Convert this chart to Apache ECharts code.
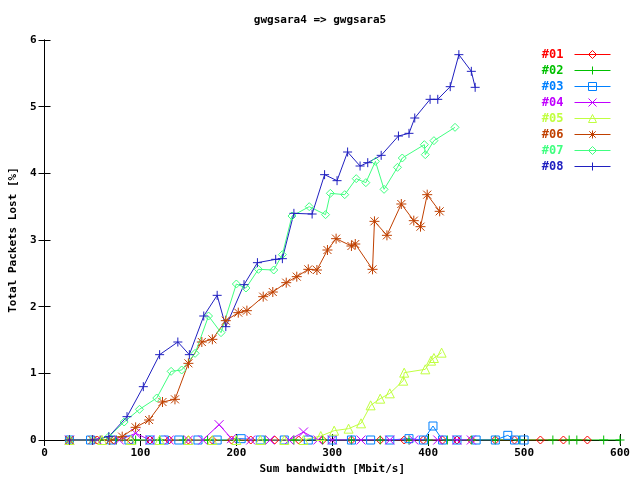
<!DOCTYPE html>
<html>
<head>
<meta charset="utf-8"/>
<title>gwgsara4 => gwgsara5</title>
<script src="https://cdn.jsdelivr.net/npm/echarts@6/dist/echarts.min.js"></script>
<style>body{margin:0}#main{width:640px;height:480px}</style>
</head>
<body>
<div id="main"></div>
<script>
// [Sum bandwidth, Packets lost %]
var s01 = [[26,0],[55,0],[72,0],[90,0],[110,0],[130,0],[150,0],[175,0],[195,0],[215,0],[240,0],[265,0],[290,0],[320,0],[350,0],[375,0],[395,0],[415,0],[430,0],[445,0],[470,0],[490,0],[517,0],[541,0],[566,0]];
var s02 = [[26,0],[58,0],[75,0],[95,0],[120,0],[145,0],[170,0],[200,0],[230,0],[260,0],[290,0],[320,0],[350,0],[380,0],[400,0],[420,0],[445,0],[470,0],[495,0],[530,0],[547,0],[555,0],[583,0],[600,0]];
var s03 = [[26,0],[48,0],[70,0],[88,0],[110,0],[125,0],[140,0],[160,0],[180,0],[205,0.02],[225,0],[250,0],[275,0],[300,0],[320,0],[340,0],[360,0],[380,0.02],[395,0],[405,0.21],[415,0],[430,0],[450,0],[470,0],[483,0.07],[490,0],[500,0]];
var s04 = [[26,0],[55,0],[78,0],[95,0.1],[110,0],[130,0],[150,0],[165,0],[182,0.23],[195,0.02],[215,0],[235,0],[255,0],[270,0.12],[285,0],[300,0],[330,0],[360,0],[385,0],[410,0],[430,0],[445,0]];
var s05 = [[26,0],[60,0],[90,0],[120,0],[150,0],[175,0],[200,0],[225,0],[250,0],[270,0],[288,0.06],[302,0.14],[317,0.17],[330,0.25],[340,0.52],[350,0.62],[360,0.70],[374,0.89],[375,1.01],[397,1.06],[403,1.19],[406,1.23],[414,1.31]];
var s06 = [[26,0],[50,0],[68,0],[81,0.05],[95,0.19],[109,0.30],[123,0.57],[136,0.61],[150,1.15],[164,1.47],[175,1.51],[189,1.79],[202,1.91],[211,1.94],[228,2.15],[238,2.22],[252,2.36],[263,2.45],[275,2.56],[284,2.55],[295,2.85],[304,3.02],[320,2.91],[324,2.94],[342,2.56],[344,3.28],[357,3.07],[372,3.54],[385,3.29],[392,3.20],[399,3.68],[412,3.43]];
var s07 = [[26,0],[50,0],[67,0.05],[83,0.27],[99,0.46],[117,0.63],[132,1.03],[143,1.05],[157,1.30],[171,1.86],[184,1.61],[200,2.34],[210,2.28],[223,2.56],[239,2.55],[248,2.78],[258,3.36],[276,3.50],[293,3.38],[298,3.70],[313,3.68],[325,3.92],[335,3.86],[345,4.18],[354,3.76],[368,4.09],[373,4.23],[396,4.43],[397,4.28],[406,4.49],[428,4.69]];
var s08 = [[26,0],[50,0],[67,0.05],[86,0.35],[103,0.80],[120,1.28],[139,1.47],[151,1.28],[166,1.86],[180,2.17],[189,1.70],[208,2.33],[222,2.66],[241,2.71],[248,2.72],[260,3.40],[279,3.39],[292,3.98],[305,3.89],[316,4.32],[329,4.11],[337,4.16],[351,4.27],[369,4.56],[380,4.60],[386,4.83],[402,5.11],[410,5.11],[423,5.30],[432,5.78],[445,5.53],[449,5.29]];
var names = ['#01','#02','#03','#04','#05','#06','#07','#08'];
var colors = ['#ff0000','#00c000','#0080ff','#c000ff','#c0ff40','#c04000','#40ff80','#2020c0'];
var xTicks = [0,100,200,300,400,500,600];
var yTicks = [0,1,2,3,4,5,6];

var plus = 'path://M0,5L10,5M5,0L5,10';
var cross = 'path://M0,0L10,10M10,0L0,10';
var star = 'path://M0,5L10,5M5,0L5,10M1,1L9,9M9,1L1,9';
var symbols = ['diamond', plus, 'rect', cross, 'triangle', star, 'diamond', plus];
var sizes = [8, 9, 8, 9, 9, 10, 8, 9];
var data = [s01, s02, s03, s04, s05, s06, s07, s08];

var font = 'DejaVu Sans Mono';
var chart = echarts.init(document.getElementById('main'));

var series = data.map(function (d, i) {
    return {
        name: names[i], type: 'line', data: d,
        symbol: symbols[i], symbolSize: sizes[i],
        lineStyle: {color: colors[i], width: 1},
        itemStyle: {color: 'none', borderColor: colors[i], borderWidth: 1},
        animation: false
    };
});

chart.setOption({
    backgroundColor: '#fff',
    title: {text: 'gwgsara4 => gwgsara5', left: 'center', top: 10,
        textStyle: {fontFamily: font, fontSize: 11, fontWeight: 'bold', color: '#000'}},
    legend: {
        right: 24, top: 43, orient: 'vertical', align: 'right', itemGap: 3,
        itemWidth: 36, itemHeight: 10,
        itemStyle: {color: 'none', borderWidth: 1},
        lineStyle: {width: 1},
        data: names.map(function (n, i) {
            return {name: n, textStyle: {color: colors[i], fontFamily: font, fontWeight: 'bold', fontSize: 12, padding: [0, 6, 0, 0]},
                itemStyle: {color: 'none', borderColor: colors[i], borderWidth: 1}};
        })
    },
    grid: {left: 40, right: 20, top: 40, bottom: 39},
    xAxis: [{
        type: 'value', min: 0, max: 600, interval: 100,
        name: 'Sum bandwidth [Mbit/s]', nameLocation: 'middle', nameGap: 24,
        nameTextStyle: {fontFamily: font, fontSize: 11, fontWeight: 'bold', color: '#000'},
        axisLine: {lineStyle: {color: '#000'}},
        axisTick: {inside: true, length: 6, lineStyle: {color: '#000'}},
        axisLabel: {fontFamily: font, fontSize: 11, fontWeight: 'bold', color: '#000',
            customValues: xTicks},
        splitLine: {show: false}
    }, {
        type: 'value', min: 0, max: 600, interval: 100, position: 'top',
        axisLine: {lineStyle: {color: '#000'}},
        axisTick: {inside: true, length: 6, lineStyle: {color: '#000'}},
        axisLabel: {show: false}, splitLine: {show: false}
    }],
    yAxis: [{
        type: 'value', min: 0, max: 6, interval: 1,
        name: 'Total Packets Lost [%]', nameLocation: 'middle', nameGap: 24,
        nameTextStyle: {fontFamily: font, fontSize: 11, fontWeight: 'bold', color: '#000'},
        axisLine: {show: true, lineStyle: {color: '#000'}},
        axisTick: {show: true, inside: true, length: 6, lineStyle: {color: '#000'}},
        axisLabel: {fontFamily: font, fontSize: 11, fontWeight: 'bold', color: '#000',
            customValues: yTicks},
        splitLine: {show: false}
    }, {
        type: 'value', min: 0, max: 6, interval: 1, position: 'right',
        axisLine: {show: true, lineStyle: {color: '#000'}},
        axisTick: {show: true, inside: true, length: 6, lineStyle: {color: '#000'}},
        axisLabel: {show: false}, splitLine: {show: false}
    }],
    series: series
});
</script>
</body>
</html>
